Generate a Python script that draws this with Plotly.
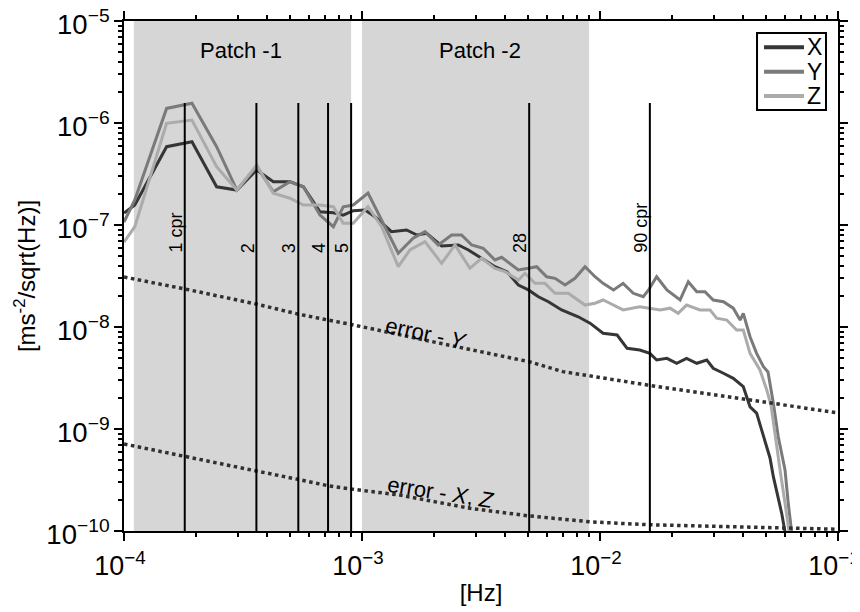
import math
import plotly.graph_objects as go

# ---------------- data ----------------
freq_x = [1.00e-4, 1.11e-4, 1.51e-4, 1.93e-4, 2.45e-4, 2.98e-4, 3.61e-4, 4.24e-4, 4.98e-4, 5.67e-4,
          6.66e-4, 7.58e-4, 8.34e-4, 9.19e-4, 1.03e-3, 1.13e-3, 1.33e-3, 1.54e-3, 1.70e-3, 1.87e-3,
          2.16e-3, 2.54e-3, 2.80e-3, 3.18e-3, 3.62e-3, 4.06e-3, 4.54e-3, 5.00e-3, 5.51e-3, 6.07e-3,
          6.90e-3, 8.10e-3, 9.08e-3, 1.03e-2, 1.18e-2, 1.30e-2, 1.47e-2, 1.62e-2, 1.73e-2, 1.91e-2,
          2.10e-2, 2.31e-2, 2.55e-2, 2.81e-2, 2.99e-2, 3.30e-2, 3.63e-2, 4.00e-2, 4.27e-2, 4.55e-2,
          4.86e-2, 5.18e-2, 5.35e-2, 5.61e-2, 5.80e-2, 5.99e-2]
psd_x = [1.31e-7, 1.57e-7, 5.86e-7, 6.56e-7, 2.37e-7, 2.20e-7, 3.46e-7, 2.66e-7, 2.66e-7, 2.37e-7,
         1.35e-7, 1.32e-7, 1.25e-7, 1.38e-7, 1.40e-7, 1.21e-7, 8.60e-8, 8.93e-8, 7.98e-8, 8.29e-8,
         6.23e-8, 6.37e-8, 5.69e-8, 4.72e-8, 3.90e-8, 3.49e-8, 2.58e-8, 2.31e-8, 1.98e-8, 1.77e-8,
         1.47e-8, 1.26e-8, 1.09e-8, 8.68e-9, 8.35e-9, 6.18e-9, 5.95e-9, 5.52e-9, 4.75e-9, 4.93e-9,
         4.41e-9, 4.93e-9, 4.41e-9, 4.75e-9, 3.94e-9, 3.52e-9, 3.14e-9, 2.60e-9, 1.65e-9, 1.43e-9,
         8.40e-10, 5.20e-10, 3.41e-10, 2.17e-10, 1.49e-10, 9.77e-11]

freq_y = [1.00e-4, 1.11e-4, 1.51e-4, 1.93e-4, 2.45e-4, 2.98e-4, 3.61e-4, 4.24e-4, 4.98e-4, 5.67e-4,
          6.66e-4, 7.58e-4, 8.34e-4, 9.19e-4, 1.06e-3, 1.21e-3, 1.42e-3, 1.64e-3, 1.84e-3, 2.09e-3,
          2.38e-3, 2.62e-3, 2.89e-3, 3.23e-3, 3.62e-3, 3.86e-3, 4.54e-3, 5.00e-3, 5.42e-3, 5.97e-3,
          6.47e-3, 7.13e-3, 7.85e-3, 8.65e-3, 9.53e-3, 1.03e-2, 1.14e-2, 1.25e-2, 1.38e-2, 1.52e-2,
          1.60e-2, 1.73e-2, 1.91e-2, 2.17e-2, 2.35e-2, 2.55e-2, 2.76e-2, 2.99e-2, 3.30e-2, 3.63e-2,
          3.88e-2, 4.00e-2, 4.27e-2, 4.55e-2, 4.86e-2, 5.08e-2, 5.35e-2, 5.61e-2, 5.99e-2, 6.18e-2,
          6.39e-2]
psd_y = [1.07e-7, 1.76e-7, 1.39e-6, 1.56e-6, 5.86e-7, 2.20e-7, 3.73e-7, 2.12e-7, 2.66e-7, 2.37e-7,
         1.25e-7, 9.62e-8, 1.51e-7, 1.57e-7, 2.05e-7, 1.12e-7, 5.28e-8, 7.41e-8, 8.60e-8, 6.37e-8,
         7.98e-8, 7.98e-8, 6.37e-8, 5.91e-8, 4.54e-8, 4.82e-8, 3.62e-8, 3.76e-8, 3.90e-8, 3.11e-8,
         3.00e-8, 2.58e-8, 3.00e-8, 3.90e-8, 3.11e-8, 2.68e-8, 2.31e-8, 2.68e-8, 2.14e-8, 1.98e-8,
         2.31e-8, 3.11e-8, 2.31e-8, 1.84e-8, 2.78e-8, 2.22e-8, 2.22e-8, 1.84e-8, 1.77e-8, 1.53e-8,
         1.17e-8, 1.36e-8, 8.03e-9, 5.52e-9, 4.08e-9, 3.62e-9, 1.79e-9, 8.40e-10, 3.96e-10, 1.87e-10,
         9.56e-11]

freq_z = [1.00e-4, 1.11e-4, 1.51e-4, 1.93e-4, 2.45e-4, 2.98e-4, 3.61e-4, 4.24e-4, 4.98e-4, 5.67e-4,
          6.66e-4, 7.58e-4, 8.34e-4, 9.19e-4, 1.06e-3, 1.21e-3, 1.42e-3, 1.59e-3, 1.84e-3, 2.16e-3,
          2.46e-3, 2.84e-3, 3.18e-3, 3.62e-3, 3.99e-3, 4.54e-3, 4.84e-3, 5.33e-3, 5.87e-3, 6.47e-3,
          7.36e-3, 8.65e-3, 9.53e-3, 1.03e-2, 1.10e-2, 1.25e-2, 1.47e-2, 1.62e-2, 1.79e-2, 1.97e-2,
          2.13e-2, 2.31e-2, 2.63e-2, 2.90e-2, 3.09e-2, 3.41e-2, 3.75e-2, 4.00e-2, 4.27e-2, 4.70e-2,
          5.02e-2, 5.23e-2, 5.44e-2, 5.71e-2, 5.99e-2, 6.24e-2]
psd_z = [6.81e-8, 9.62e-8, 9.93e-7, 1.07e-6, 3.73e-7, 2.20e-7, 3.88e-7, 2.05e-7, 1.83e-7, 1.57e-7,
         1.57e-7, 1.51e-7, 1.04e-7, 1.04e-7, 1.51e-7, 9.62e-8, 3.90e-8, 5.69e-8, 6.86e-8, 4.21e-8,
         6.37e-8, 3.76e-8, 4.72e-8, 3.76e-8, 3.49e-8, 2.89e-8, 3.36e-8, 2.68e-8, 2.68e-8, 2.14e-8,
         2.14e-8, 1.64e-8, 1.71e-8, 1.84e-8, 1.71e-8, 1.47e-8, 1.58e-8, 1.53e-8, 1.47e-8, 1.53e-8,
         1.36e-8, 1.64e-8, 1.47e-8, 1.47e-8, 1.22e-8, 1.17e-8, 9.35e-9, 9.35e-9, 5.52e-9, 3.79e-9,
         2.41e-9, 1.72e-9, 8.40e-10, 3.96e-10, 1.87e-10, 9.56e-11]

err_freq_y = [1.00e-4, 1.80e-4, 3.59e-4, 5.38e-4, 7.20e-4, 8.99e-4, 2.13e-3, 5.03e-3, 6.99e-3, 1.58e-2, 1.00e-1]
err_y = [3.09e-8, 2.36e-8, 1.68e-8, 1.34e-8, 1.17e-8, 1.06e-8, 6.92e-9, 4.57e-9, 3.65e-9, 2.70e-9, 1.44e-9]

err_freq_xz = [1.00e-4, 1.80e-4, 3.59e-4, 5.38e-4, 7.20e-4, 8.99e-4, 1.44e-3, 2.84e-3, 4.98e-3, 9.08e-3, 1.62e-2, 1.00e-1]
err_xz = [7.13e-10, 5.35e-10, 3.88e-10, 3.21e-10, 2.78e-10, 2.58e-10, 2.25e-10, 1.67e-10, 1.41e-10, 1.23e-10, 1.15e-10, 1.04e-10]

cpr_freqs = [1.8e-4, 3.6e-4, 5.4e-4, 7.2e-4, 9.0e-4, 5.04e-3, 1.62e-2]
cpr_labels = ["1 cpr", "2", "3", "4", "5", "28", "90 cpr"]
cpr_top = 1.57e-6
cpr_label_level = 5.1e-8

patch_names = ["Patch -1", "Patch -2"]
patch_start = [1.1e-4, 1.0e-3]
patch_end = [9.0e-4, 9.0e-3]
patch_label_freq = [3.1e-4, 3.13e-3]
patch_label_level = 5.1e-6

x_range = [1e-4, 1e-1]
y_range = [1e-10, 1e-5]

series_names = ["X", "Y", "Z"]
series_colors = ["#363636", "#7a7a7a", "#ababab"]

# ---------------- figure ----------------
FONT = "Liberation Sans, Arial, Helvetica, sans-serif"
fig = go.Figure()

# shaded patches
for s, e in zip(patch_start, patch_end):
    fig.add_trace(go.Scatter(
        x=[s, e, e, s, s], y=[y_range[0], y_range[0], y_range[1], y_range[1], y_range[0]],
        mode="lines", fill="toself", fillcolor="#d6d6d6", line=dict(width=0, color="#d6d6d6"),
        showlegend=False, hoverinfo="skip"))

for name, fx, fy, col in zip(series_names, [freq_x, freq_y, freq_z], [psd_x, psd_y, psd_z], series_colors):
    fig.add_trace(go.Scatter(x=fx, y=fy, mode="lines", name=name, showlegend=False,
                             line=dict(color=col, width=3)))

for fx, fy in [(err_freq_y, err_y), (err_freq_xz, err_xz)]:
    fig.add_trace(go.Scatter(x=fx, y=fy, mode="lines", showlegend=False,
                             line=dict(color="#303030", width=3.5, dash="dot")))

vx, vy = [], []
for f in cpr_freqs:
    vx += [f, f, None]
    vy += [cpr_top, y_range[0], None]
fig.add_trace(go.Scatter(x=vx, y=vy, mode="lines", showlegend=False,
                         line=dict(color="black", width=2)))

annotations = []
for f, lab in zip(cpr_freqs, cpr_labels):
    annotations.append(dict(x=math.log10(f), y=math.log10(cpr_label_level), xref="x", yref="y",
                            text=lab, showarrow=False, textangle=-90, xanchor="right",
                            yanchor="bottom", xshift=3, font=dict(size=18, color="black", family=FONT)))
for f, lab in zip(patch_label_freq, patch_names):
    annotations.append(dict(x=math.log10(f), y=math.log10(patch_label_level), xref="x", yref="y",
                            text=lab, showarrow=False, font=dict(size=22, color="black", family=FONT)))
annotations.append(dict(x=math.log10(1.86e-3), y=math.log10(8.7e-9), xref="x", yref="y",
                        text="error - <i>Y</i>", showarrow=False, textangle=12,
                        font=dict(size=22, color="black", family=FONT)))
annotations.append(dict(x=math.log10(2.15e-3), y=math.log10(2.4e-10), xref="x", yref="y",
                        text="error - <i>X</i>, <i>Z</i>", showarrow=False, textangle=9,
                        font=dict(size=22, color="black", family=FONT)))

# legend (box, sample lines and labels)
shapes = [dict(type="rect", xref="paper", yref="paper", x0=0.8866, x1=0.9832, y0=0.8255, y1=0.9765,
               line=dict(color="black", width=2), fillcolor="white", layer="above")]
leg_rows = [0.9484, 0.9006, 0.8529]
for name, col, ly in zip(series_names, series_colors, leg_rows):
    shapes.append(dict(type="line", xref="paper", yref="paper", x0=0.8964, x1=0.9524, y0=ly, y1=ly,
                       line=dict(color=col, width=4), layer="above"))
    annotations.append(dict(x=0.9538, y=ly, xref="paper", yref="paper", text=name, showarrow=False,
                            xanchor="left", yanchor="middle", font=dict(size=23, color="black", family=FONT)))

axis_common = dict(type="log", showgrid=False, zeroline=False, showline=True, linecolor="black",
                   linewidth=2, mirror="allticks", ticks="outside", ticklen=8, tickwidth=2,
                   tickcolor="black", dtick=1, exponentformat="power", automargin=False,
                   ticklabeloverflow="allow",
                   minor=dict(ticks="outside", ticklen=4, tickwidth=1.5, tickcolor="black",
                              dtick="D1", showgrid=False))

# the page body adds an 8 px offset, so the figure is 8 px smaller than the window
fig.update_layout(
    width=852, height=604,
    margin=dict(l=116, r=22, t=13, b=81, autoexpand=False),
    paper_bgcolor="white", plot_bgcolor="white",
    font=dict(family=FONT, size=22, color="black"),
    xaxis=dict(axis_common, range=[math.log10(x_range[0]), math.log10(x_range[1])],
               ticklabelstandoff=3, ticklabelshift=-4,
               tickfont=dict(size=21.5, color="black", family=FONT)),
    yaxis=dict(axis_common, range=[math.log10(y_range[0]), math.log10(y_range[1])],
               ticklabelshift=3,
               tickfont=dict(size=22, color="black", family=FONT)),
    annotations=annotations,
    shapes=shapes,
    showlegend=False,
)
fig.update_xaxes(title_text="[Hz]", title_font=dict(size=24, family=FONT, color="black"), title_standoff=4)
fig.update_yaxes(title_text="[ms<sup>-2</sup>/sqrt(Hz)]", title_font=dict(size=24, family=FONT, color="black"),
                 title_standoff=4)

fig.write_html("out.html")
